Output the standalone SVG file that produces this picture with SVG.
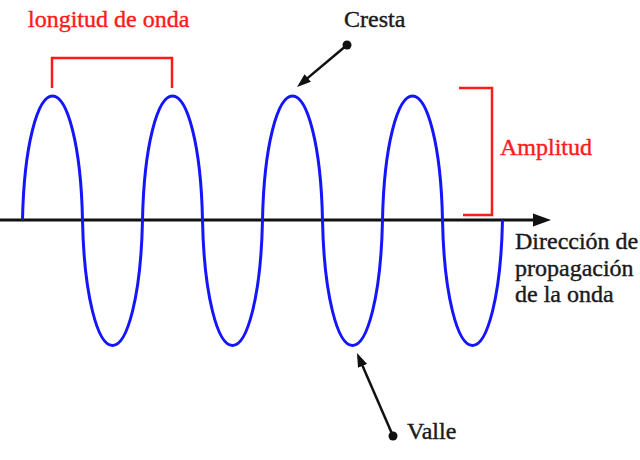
<svg xmlns="http://www.w3.org/2000/svg" width="640" height="460" viewBox="0 0 640 460">
<style>
text{font-size:24px}
.red{fill:#ff1a1a;stroke:#ff1a1a;stroke-width:0.4}
.blk{fill:#1a1a1a;stroke:#1a1a1a;stroke-width:0.4}
.bracket{fill:none;stroke:#ff1a1a;stroke-width:2.5}
.wave{fill:none;stroke:#1414ff;stroke-width:3;stroke-linejoin:round}
.ptr{stroke:#111;stroke-width:2.5;fill:none;marker-end:url(#ah)}
</style>
<defs>
<marker id="ah" markerUnits="userSpaceOnUse" markerWidth="15" markerHeight="11" refX="10" refY="5" orient="auto">
<path d="M0,0 L14,5 L0,10 z" fill="#111"/>
</marker>
</defs>
<rect width="640" height="460" fill="#fff"/>
<g id="connectors">
<line id="axis" x1="0" y1="220" x2="536" y2="220" stroke="#111" stroke-width="3"/>
<polygon points="533,213.5 551,220 533,226.5" fill="#111"/>
<line x1="347" y1="45" x2="300.1" y2="84.4" class="ptr"/>
<line x1="393" y1="436" x2="358.6" y2="356.7" class="ptr"/>
<circle cx="347" cy="45" r="4.5" fill="#111"/>
<circle cx="393" cy="436" r="4.5" fill="#111"/>
</g>
<g id="wave">
<path class="wave" d="M22.5,220
c 1.5,-74.4 15,-124 30,-124 c 15,0 28.5,49.6 30,124
c 1.5,75.3 15,125.5 30,125.5 c 15,0 28.5,-50.2 30,-125.5
c 1.5,-74.4 15,-124 30,-124 c 15,0 28.5,49.6 30,124
c 1.5,75.3 15,125.5 30,125.5 c 15,0 28.5,-50.2 30,-125.5
c 1.5,-74.4 15,-124 30,-124 c 15,0 28.5,49.6 30,124
c 1.5,75.3 15,125.5 30,125.5 c 15,0 28.5,-50.2 30,-125.5
c 1.5,-74.4 15,-124 30,-124 c 15,0 28.5,49.6 30,124
c 1.5,75.3 15,125.5 30,125.5 c 15,0 28.5,-50.2 30,-125.5"/>
</g>
<g id="longitud" font-family="Liberation Serif, DejaVu Serif, serif">
<path class="bracket" d="M52,88 V58 H172 V88"/>
<text x="28" y="27" class="red">longitud de onda</text>
</g>
<g id="amplitud" font-family="Liberation Serif, DejaVu Serif, serif">
<path class="bracket" d="M459,88 H492 V215 H463"/>
<text x="500" y="155" class="red">Amplitud</text>
</g>
<g id="cresta" font-family="Liberation Serif, DejaVu Serif, serif">
<text x="344" y="27" class="blk">Cresta</text>
</g>
<g id="valle" font-family="Liberation Serif, DejaVu Serif, serif">
<text x="407" y="439" class="blk">Valle</text>
</g>
<g id="direccion" font-family="Liberation Serif, DejaVu Serif, serif">
<text x="515" y="249" class="blk">Dirección de</text>
<text x="515" y="276" class="blk">propagación</text>
<text x="515" y="302" class="blk">de la onda</text>
</g>
</svg>
